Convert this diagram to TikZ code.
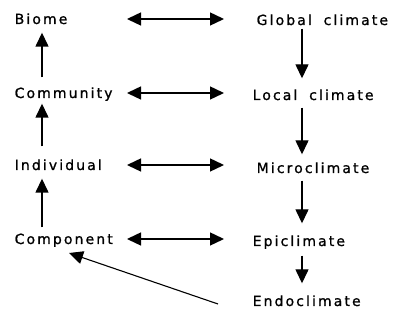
\documentclass[tikz,border=0pt]{standalone}
\usepackage{fontspec}
\setmainfont{DejaVu Sans}[LetterSpace=15,WordSpace=1.8,FakeBold=1]
\usetikzlibrary{arrows.meta}

\begin{document}
\begin{tikzpicture}[x=1pt,y=-1pt,line width=1.4pt,
      every node/.style={inner sep=0pt,text height=10pt,text depth=0pt,
        font=\fontsize{14}{16}\selectfont},
      lab/.style={anchor=base west},
      >={Triangle[width=13pt,length=14pt]}]
      \useasboundingbox(0,0)rectangle(394,320);
      % left column
      \node[lab](biome)at(14,24){Biome};
      \node[lab](comm)at(14,98){Community};
      \node[lab](indiv)at(14,170){Individual};
      \node[lab](comp)at(14,244){Component};
      % right column
      \node[lab](glob)at(256,25){Global climate};
      \node[lab](loc)at(252,100){Local climate};
      \node[lab](micro)at(256,173){Microclimate};
      \node[lab](epi)at(252,246){Epiclimate};
      \node[lab](endo)at(252,306){Endoclimate};
      \coordinate(xl)at(127,0);\coordinate(xr)at(224,0);
      \coordinate(xa)at(42,0);\coordinate(xb)at(302,0);
      % horizontal links
      \foreach \a in {biome,comm,indiv,comp}
        \draw[<->](\a.center-|xl)--(\a.center-|xr);
      % upward arrows
      \draw[->,shorten <=10pt,shorten >=8pt](comm.north-|xa)--(biome.south-|xa);
      \draw[->,shorten <=13pt,shorten >=5pt](indiv.north-|xa)--(comm.south-|xa);
      \draw[->,shorten <=6pt,shorten >=8pt](comp.north-|xa)--(indiv.south-|xa);
      % downward arrows
      \draw[->,shorten <=3pt,shorten >=11pt](glob.south-|xb)--(loc.north-|xb);
      \draw[->,shorten <=7pt,shorten >=8pt](loc.south-|xb)--(micro.north-|xb);
      \draw[->,shorten <=7pt,shorten >=12pt](micro.south-|xb)--(epi.north-|xb);
      \draw[->,shorten <=9pt,shorten >=12pt](epi.south-|xb)--(endo.north-|xb);
      \draw[->,line width=1.1pt]([shift={(-34,3)}]endo.west)--([shift={(55,9)}]comp.base west);
    \end{tikzpicture}
\end{document}
